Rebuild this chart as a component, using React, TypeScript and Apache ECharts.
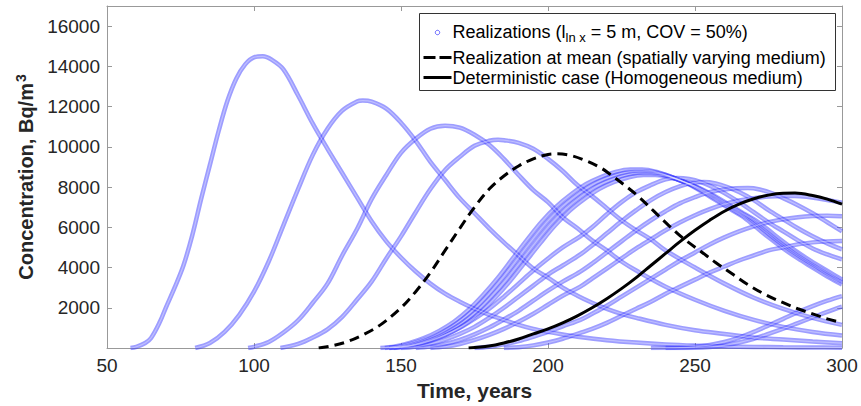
import React, { useEffect, useRef } from "react";
import * as echarts from "echarts";

// ---------- data ----------
const xMin = 50;
const xMax = 300;
const xStep = 50;
const yMin = 0;
const yMax = 17000;
const yStep = 2000;

const legendLabels = [
  "Realizations (l{sub|ln x} = 5 m, COV = 50%)",
  "Realization at mean (spatially varying medium)",
  "Deterministic case (Homogeneous medium)",
];

const realA: number[][] = [[58,0],[60,60],[63,250],[65,500],[68,1300],[70,2000],[73,3000],[76,4100],[79,5600],[82,7400],[85,9100],[88,10800],[91,12300],[94,13400],[97,14100],[100,14450],[103,14500],[106,14330],[110,13850],[115,12550],[120,11150],[125,9900],[130,8700],[135,7500],[140,6300],[145,5300],[150,4500],[155,3800],[160,3200],[165,2700],[170,2300],[175,1950],[180,1650],[185,1400],[190,1150],[195,950],[200,800],[205,670],[210,560],[220,390],[230,270],[240,180],[250,120],[260,80],[270,55],[280,35],[290,22],[300,15]];
const realB: number[][] = [[80,0],[85,250],[90,800],[95,1650],[100,2800],[105,4300],[110,6100],[115,7900],[120,9600],[125,10900],[130,11800],[135,12250],[137,12300],[140,12250],[145,11900],[150,11200],[155,10300],[160,9250],[165,8350],[170,7450],[175,6700],[180,5950],[185,5250],[190,4600],[195,3950],[200,3500],[205,3000],[210,2600],[215,2250],[220,1950],[225,1700],[230,1500],[240,1150],[250,880],[260,700],[270,520],[280,420],[290,320],[300,240]];
const realC: number[][] = [[98,0],[100,60],[105,300],[110,770],[115,1380],[120,2250],[125,3200],[130,4600],[135,5900],[140,7400],[145,8600],[150,9700],[155,10400],[160,10900],[165,11050],[170,10950],[175,10600],[180,10100],[185,9400],[190,8600],[195,7850],[200,7250],[205,6500],[210,5950],[215,5350],[220,4850],[225,4300],[230,3850],[240,3050],[250,2400],[260,1850],[270,1400],[280,1050],[290,800],[300,620]];
const realD: number[][] = [[109,0],[115,200],[120,520],[125,930],[130,1550],[135,2400],[140,3300],[145,4450],[150,5550],[155,6750],[160,7900],[165,8850],[170,9500],[175,10050],[180,10300],[183,10350],[185,10330],[190,10200],[195,9900],[200,9400],[205,8800],[210,8100],[215,7550],[220,6950],[225,6350],[230,5850],[235,5400],[240,4850],[250,4000],[260,3200],[270,2500],[280,1950],[290,1500],[300,1150]];
const realB1: number[][] = [[143,0],[148,80],[153,250],[158,500],[163,850],[168,1300],[173,1900],[178,2650],[183,3500],[188,4450],[193,5400],[198,6300],[203,7050],[208,7650],[213,8150],[218,8500],[223,8750],[228,8870],[232,8870],[237,8750],[242,8500],[247,8200],[252,7800],[257,7350],[262,6900],[266,6550],[270,6100],[275,5500],[280,4950],[285,4450],[290,4000],[295,3550],[300,3150]];
const realB2: number[][] = [[144.5,0],[149.5,80],[154.5,250],[159.5,495],[164.5,840],[169.5,1290],[174.5,1880],[179.5,2620],[184.5,3470],[189.5,4410],[194.5,5350],[199.5,6240],[204.5,6980],[209.5,7570],[214.5,8070],[219.5,8420],[224.5,8660],[229.5,8780],[233.5,8780],[238.5,8660],[243.5,8420],[248.5,8120],[253.5,7720],[258.5,7280],[263.5,6830],[267.5,6480],[271.5,6040],[276.5,5450],[281.5,4900],[286.5,4410],[291.5,3960],[296.5,3510],[300,3240]];
const realB3: number[][] = [[146,0],[151,80],[156,245],[161,490],[166,830],[171,1270],[176,1860],[181,2600],[186,3430],[191,4360],[196,5290],[201,6170],[206,6910],[211,7500],[216,7990],[221,8330],[226,8580],[231,8690],[235,8690],[240,8580],[245,8330],[250,8040],[255,7640],[260,7200],[265,6760],[269,6420],[273,5980],[278,5390],[283,4850],[288,4360],[293,3920],[298,3480],[300,3300]];
const realB4: number[][] = [[147.5,0],[152.5,80],[157.5,240],[162.5,485],[167.5,825],[172.5,1260],[177.5,1840],[182.5,2570],[187.5,3400],[192.5,4320],[197.5,5240],[202.5,6110],[207.5,6840],[212.5,7420],[217.5,7910],[222.5,8250],[227.5,8490],[232.5,8600],[236.5,8600],[241.5,8490],[246.5,8250],[251.5,7950],[256.5,7570],[261.5,7130],[266.5,6690],[270.5,6350],[274.5,5920],[279.5,5340],[284.5,4800],[289.5,4320],[294.5,3880],[299.5,3440],[300,3400]];
const realE: number[][] = [[146,0],[150,50],[155,170],[160,380],[165,650],[170,1000],[175,1450],[180,1950],[185,2550],[190,3200],[195,3850],[200,4450],[205,5000],[211,5550],[215,6000],[220,6650],[225,7250],[230,7750],[235,8100],[240,8380],[244,8450],[248,8400],[252,8250],[256,8000],[260,7700],[265,7250],[270,6750],[275,6250],[280,5800],[285,5350],[290,4950],[295,4650],[300,4400]];
const realF: number[][] = [[150,0],[155,60],[160,200],[165,420],[170,700],[175,1050],[180,1500],[185,2000],[190,2550],[195,3100],[200,3650],[205,4100],[211,4650],[215,5100],[220,5700],[225,6300],[230,6850],[235,7350],[240,7750],[245,8050],[250,8220],[253,8250],[257,8180],[261,8000],[265,7750],[270,7350],[275,6850],[280,6400],[285,5950],[290,5550],[295,5200],[300,4900]];
const realG: number[][] = [[155,0],[160,70],[165,200],[170,400],[175,680],[180,1020],[185,1420],[190,1850],[195,2350],[200,2850],[205,3300],[211,3800],[215,4200],[220,4750],[225,5300],[230,5850],[235,6350],[240,6800],[245,7200],[250,7500],[255,7750],[260,7880],[264,7940],[268,7950],[272,7880],[276,7700],[280,7450],[285,7100],[290,6700],[295,6250],[300,5800]];
const realH: number[][] = [[160,0],[165,70],[170,200],[175,400],[180,650],[185,950],[190,1300],[195,1700],[200,2150],[205,2600],[211,3050],[215,3450],[220,3950],[225,4450],[230,4950],[235,5400],[240,5850],[245,6250],[250,6600],[255,6900],[260,7150],[265,7330],[270,7450],[275,7530],[280,7560],[284,7560],[288,7520],[292,7430],[296,7330],[300,7220]];
const realI: number[][] = [[175,0],[180,60],[185,180],[190,340],[195,560],[200,800],[205,1080],[211,1400],[215,1700],[220,2100],[225,2550],[230,3000],[235,3450],[240,3900],[245,4350],[250,4750],[255,5150],[260,5500],[265,5800],[270,6050],[275,6250],[280,6400],[285,6500],[290,6560],[295,6580],[300,6550]];
const realJ: number[][] = [[185,0],[190,40],[195,130],[200,270],[205,460],[211,750],[215,950],[220,1250],[225,1600],[230,1950],[235,2300],[240,2700],[245,3050],[250,3400],[255,3750],[260,4050],[265,4350],[270,4600],[275,4850],[280,5000],[285,5150],[290,5250],[295,5300],[300,5320]];
const realK: number[][] = [[235,0],[245,20],[250,60],[255,150],[260,300],[265,520],[270,800],[275,1120],[280,1450],[285,1780],[290,2080],[295,2350],[300,2580]];
const realL: number[][] = [[240,0],[250,15],[255,50],[260,130],[265,270],[270,460],[275,700],[280,960],[285,1240],[290,1520],[295,1800],[300,2060]];

const meanCase: number[][] = [[122,0],[127,120],[132,330],[137,650],[143,1150],[150,2000],[155,2800],[160,3750],[165,4850],[170,5950],[175,7000],[180,7900],[185,8550],[190,9050],[195,9400],[200,9620],[203,9650],[208,9560],[213,9300],[218,8950],[221,8650],[226,8100],[231,7500],[236,6800],[241,6100],[246,5450],[252,4800],[257,4250],[263,3650],[268,3150],[274,2650],[280,2250],[285,1950],[290,1700],[295,1450],[300,1250]];
const deterministic: number[][] = [[173,0],[180,100],[185,250],[190,450],[195,700],[200,950],[205,1250],[210,1600],[215,2000],[220,2450],[225,2950],[230,3500],[235,4100],[240,4700],[245,5300],[250,5850],[255,6350],[260,6800],[265,7150],[270,7420],[275,7600],[280,7690],[284,7700],[290,7580],[295,7400],[300,7150]];

const realizations = [realA, realB, realC, realD, realB1, realB2, realB3, realB4, realE, realF, realG, realH, realI, realJ, realK, realL];

const FONT = "'Liberation Sans', Arial, Helvetica, sans-serif";
const BLUE = "rgba(60,60,255,0.5)";
const RING = "rgba(255,255,255,0.35)";
const AXIS = "#999999";
const TXT = "#262626";

export default function App() {
  const ref = useRef<HTMLDivElement | null>(null);

  useEffect(() => {
    document.body.style.margin = "0";
    if (!ref.current) return;
    const chart = echarts.init(ref.current, undefined, { renderer: "svg" });

    const blueSeries = realizations.map((d) => ({
      name: legendLabels[0],
      type: "line",
      data: d,
      smooth: 0.35,
      symbol: "none",
      lineStyle: { color: BLUE, width: 4.5 },
      silent: true,
      z: 2,
    }));
    // light centre of each ring chain (hollow-marker look)
    const ringSeries = realizations.map((d) => ({
      name: legendLabels[0],
      type: "line",
      data: d,
      smooth: 0.35,
      symbol: "none",
      lineStyle: { color: RING, width: 1.2 },
      silent: true,
      z: 3,
    }));

    const axisCommon = {
      type: "value",
      axisLine: { show: true, onZero: false, lineStyle: { color: AXIS, width: 1 } },
      axisTick: { show: true, inside: true, length: 5, lineStyle: { color: AXIS } },
      splitLine: { show: false },
    };

    chart.setOption({
      animation: false,
      backgroundColor: "#ffffff",
      grid: { left: 107, top: 6, width: 735, height: 342, containLabel: false },
      xAxis: [
        {
          ...axisCommon,
          position: "bottom",
          min: xMin,
          max: xMax,
          interval: xStep,
          axisLabel: { show: true, fontSize: 19, color: TXT, fontFamily: FONT, margin: 8 },
          name: "Time, years",
          nameLocation: "middle",
          nameGap: 27,
          nameTextStyle: { fontSize: 21, fontWeight: "bold", color: TXT, fontFamily: FONT },
        },
        {
          ...axisCommon,
          position: "top",
          min: xMin,
          max: xMax,
          interval: xStep,
          axisLabel: { show: false },
        },
      ],
      yAxis: [
        {
          ...axisCommon,
          position: "left",
          min: yMin,
          max: yMax,
          interval: yStep,
          axisLabel: {
            show: true,
            fontSize: 19,
            color: TXT,
            fontFamily: FONT,
            margin: 7,
            showMinLabel: false,
            showMaxLabel: false,
            formatter: (v: number) => (v === 0 || v > 16000 ? "" : String(v)),
          },
          name: "Concentration, Bq/m{sup|3}",
          nameLocation: "middle",
          nameGap: 66,
          nameTextStyle: {
            fontSize: 20,
            fontWeight: "bold",
            color: TXT,
            fontFamily: FONT,
            rich: {
              sup: { fontSize: 14, fontWeight: "bold", color: TXT, fontFamily: FONT, padding: [0, 0, 10, 1] },
            },
          },
        },
        {
          ...axisCommon,
          position: "right",
          min: yMin,
          max: yMax,
          interval: yStep,
          axisLabel: { show: false },
        },
      ],
      series: [
        ...blueSeries,
        ...ringSeries,
        {
          name: legendLabels[1],
          type: "line",
          data: meanCase,
          smooth: 0.35,
          symbol: "none",
          lineStyle: { color: "#000", width: 3, type: [10, 6] },
          silent: true,
          z: 4,
        },
        {
          name: legendLabels[2],
          type: "line",
          data: deterministic,
          smooth: 0.35,
          symbol: "none",
          lineStyle: { color: "#000", width: 3 },
          silent: true,
          z: 4,
        },
      ],
      graphic: [
        {
          type: "group",
          left: 419,
          top: 13,
          z: 100,
          children: [
            {
              type: "rect",
              shape: { x: 0, y: 0, width: 416, height: 77 },
              style: { fill: "#ffffff", stroke: "#333333", lineWidth: 1 },
            },
            {
              type: "circle",
              shape: { cx: 18, cy: 19, r: 2.2 },
              style: { fill: "none", stroke: "rgba(60,60,255,0.8)", lineWidth: 1 },
            },
            {
              type: "text",
              x: 33,
              y: 6,
              style: {
                text: legendLabels[0],
                font: `18px ${FONT}`,
                fill: "#000",
                rich: {
                  sub: { fontSize: 13, fontFamily: FONT, fill: "#000", padding: [11, 0, 0, 0] },
                },
              },
            },
            {
              type: "line",
              shape: { x1: 4, y1: 44, x2: 32, y2: 44 },
              style: { stroke: "#000", lineWidth: 3, lineDash: [12, 4] },
            },
            {
              type: "text",
              x: 33,
              y: 35,
              style: { text: legendLabels[1], font: `18px ${FONT}`, fill: "#000" },
            },
            {
              type: "line",
              shape: { x1: 4, y1: 64, x2: 32, y2: 64 },
              style: { stroke: "#000", lineWidth: 3 },
            },
            {
              type: "text",
              x: 33,
              y: 55,
              style: { text: legendLabels[2], font: `18px ${FONT}`, fill: "#000" },
            },
          ],
        },
      ],
    });

    return () => chart.dispose();
  }, []);

  return <div ref={ref} style={{ width: 861, height: 406 }} />;
}
